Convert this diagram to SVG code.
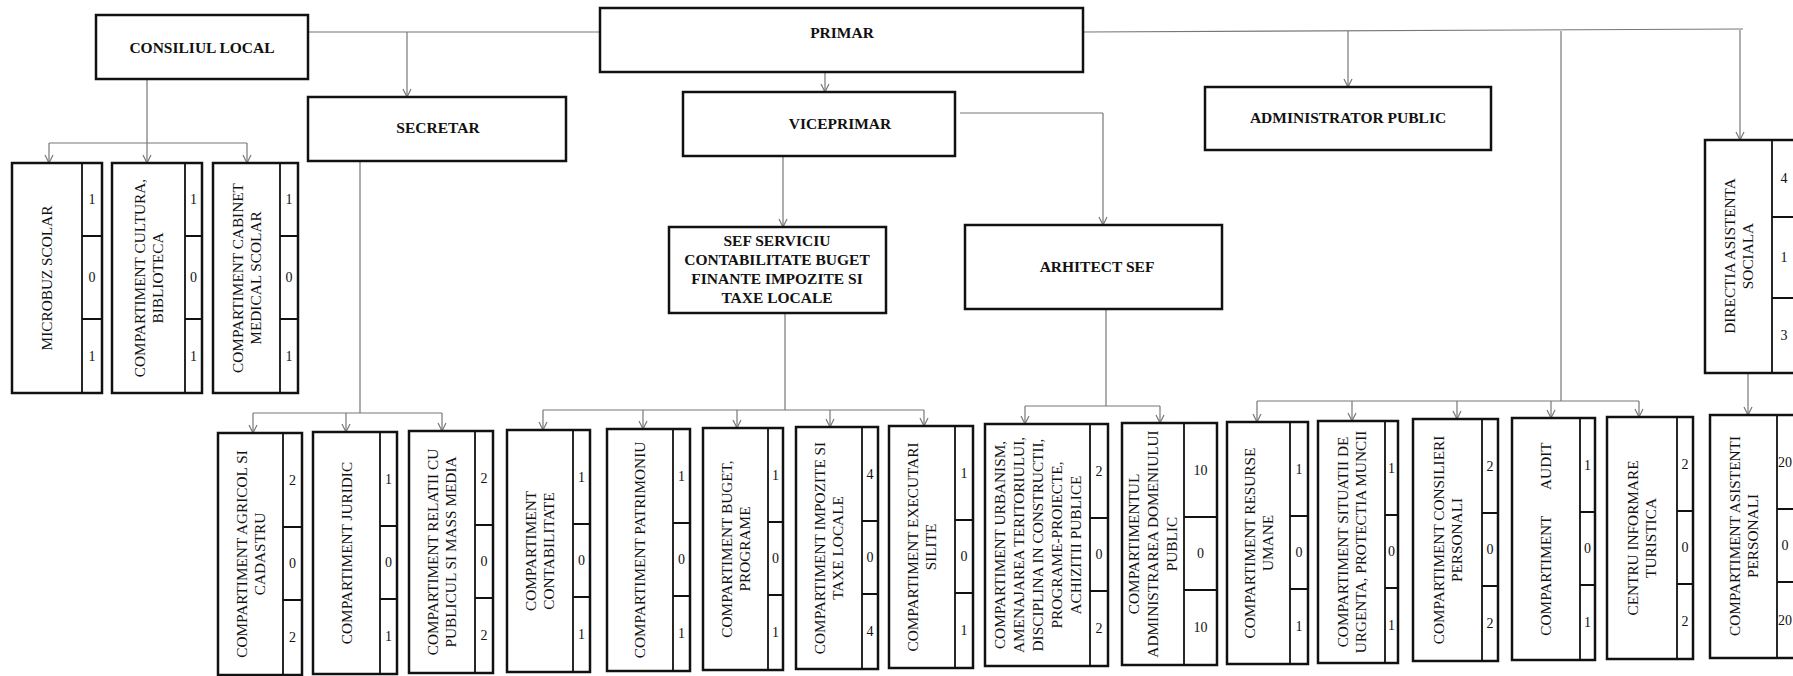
<svg xmlns="http://www.w3.org/2000/svg" width="1793" height="676" viewBox="0 0 1793 676">
<defs>
<style>
.box{fill:#fff;stroke:#111;stroke-width:2.5}
.dv{stroke:#111;stroke-width:1.8;fill:none}
.tt{font-family:"Liberation Serif","Times New Roman",serif;font-weight:bold;font-size:15.5px;text-anchor:middle;fill:#111}
.vt{font-family:"Liberation Serif","Times New Roman",serif;font-size:15.3px;text-anchor:middle;fill:#111}
.nm{font-family:"Liberation Serif","Times New Roman",serif;font-size:14px;text-anchor:middle;fill:#111}
.cn{stroke:#777;stroke-width:1.2;fill:none}
.ar{stroke:#777;stroke-width:1.2;fill:none;marker-end:url(#ah)}
</style>
<marker id="ah" viewBox="-9 -5 10 10" refX="0" refY="0" markerWidth="10" markerHeight="10" markerUnits="userSpaceOnUse" orient="auto" overflow="visible">
<path d="M-8,-4 L0,0 L-8,4" fill="none" stroke="#777" stroke-width="1.2"/>
</marker>
</defs>
<rect width="1793" height="676" fill="#fff"/>

<g id="connectors">
<path class="cn" d="M308,32 H600"/>
<path class="cn" d="M1083,32 L1743,29"/>
<path class="ar" d="M407,32 V97"/>
<path class="ar" d="M825,72 V92"/>
<path class="ar" d="M1348,31 V87"/>
<path class="ar" d="M1740,30 V140"/>
<path class="cn" d="M1561,31 V401"/>
<path class="cn" d="M960,113 H1103"/>
<path class="ar" d="M1103,113 V225"/>
<path class="ar" d="M783,156 V227"/>
<path class="ar" d="M1748,373 V415"/>
<path class="cn" d="M147,79 V143 M49,143 H247"/>
<path class="ar" d="M49,143 V163"/>
<path class="ar" d="M147,143 V163"/>
<path class="ar" d="M247,143 V163"/>
<path class="cn" d="M360,161 V413 M253,413 H442"/>
<path class="ar" d="M253,413 V433"/>
<path class="ar" d="M346,413 V432"/>
<path class="ar" d="M442,413 V431"/>
<path class="cn" d="M785,313 V410 M543,410 H924"/>
<path class="ar" d="M543,410 V430"/>
<path class="ar" d="M643,410 V429"/>
<path class="ar" d="M737,410 V428"/>
<path class="ar" d="M830,410 V427"/>
<path class="ar" d="M924,410 V426"/>
<path class="cn" d="M1106,309 V406 M1025,406 H1160"/>
<path class="ar" d="M1025,406 V424"/>
<path class="ar" d="M1160,406 V423"/>
<path class="cn" d="M1257,401 H1639"/>
<path class="ar" d="M1257,401 V422"/>
<path class="ar" d="M1352,401 V421"/>
<path class="ar" d="M1457,401 V419"/>
<path class="ar" d="M1551,401 V418"/>
<path class="ar" d="M1639,401 V417"/>
</g>

<g id="consiliul-local"><rect class="box" x="96" y="15" width="212" height="64"/><text class="tt" x="202" y="53">CONSILIUL LOCAL</text></g>
<g id="primar"><rect class="box" x="600" y="8" width="483" height="64"/><text class="tt" x="842" y="38">PRIMAR</text></g>
<g id="secretar"><rect class="box" x="308" y="97" width="258" height="64"/><text class="tt" x="438" y="133">SECRETAR</text></g>
<g id="viceprimar"><rect class="box" x="683" y="92" width="272" height="64"/><text class="tt" x="840" y="129">VICEPRIMAR</text></g>
<g id="administrator-public"><rect class="box" x="1205" y="87" width="286" height="63"/><text class="tt" x="1348" y="123">ADMINISTRATOR PUBLIC</text></g>
<g id="sef-serviciu"><rect class="box" x="669" y="227" width="217" height="86"/>
<text class="tt"><tspan x="777" y="246">SEF SERVICIU</tspan><tspan x="777" y="265">CONTABILITATE BUGET</tspan><tspan x="777" y="284">FINANTE IMPOZITE SI</tspan><tspan x="777" y="303">TAXE LOCALE</tspan></text></g>
<g id="arhitect-sef"><rect class="box" x="965" y="225" width="257" height="84"/><text class="tt" x="1097" y="272">ARHITECT SEF</text></g>

<g id="microbuz-scolar"><rect class="box" x="12" y="163" width="90" height="230"/><path class="dv" d="M82,163 V393 M82,236 H102 M82,319 H102"/>
<text class="vt" transform="translate(47,278) rotate(-90)"><tspan x="0" y="5">MICROBUZ SCOLAR</tspan></text>
<text class="nm" x="92" y="204">1</text><text class="nm" x="92" y="282">0</text><text class="nm" x="92" y="361">1</text></g>
<g id="compartiment-cultura"><rect class="box" x="112" y="163" width="90" height="230"/><path class="dv" d="M185,163 V393 M185,236 H202 M185,319 H202"/>
<text class="vt" transform="translate(148.5,278) rotate(-90)"><tspan x="0" y="-4">COMPARTIMENT CULTURA,</tspan><tspan x="0" y="14">BIBLIOTECA</tspan></text>
<text class="nm" x="193.5" y="204">1</text><text class="nm" x="193.5" y="282">0</text><text class="nm" x="193.5" y="361">1</text></g>
<g id="compartiment-cabinet"><rect class="box" x="213" y="163" width="85" height="230"/><path class="dv" d="M280,163 V393 M280,236 H298 M280,319 H298"/>
<text class="vt" transform="translate(246.5,278) rotate(-90)"><tspan x="0" y="-4">COMPARTIMENT CABINET</tspan><tspan x="0" y="14">MEDICAL SCOLAR</tspan></text>
<text class="nm" x="289" y="204">1</text><text class="nm" x="289" y="282">0</text><text class="nm" x="289" y="361">1</text></g>

<g id="directia-asistenta-sociala"><rect class="box" x="1705" y="140" width="100" height="233"/><path class="dv" d="M1772,140 V373 M1772,217 H1800 M1772,298 H1800"/>
<text class="vt" transform="translate(1738.5,256) rotate(-90)"><tspan x="0" y="-4">DIRECTIA ASISTENTA</tspan><tspan x="0" y="14">SOCIALA</tspan></text>
<text class="nm" x="1784" y="183">4</text><text class="nm" x="1784" y="262">1</text><text class="nm" x="1784" y="340">3</text></g>

<g id="compartiment-agricol"><rect class="box" x="218" y="433" width="84" height="242"/><path class="dv" d="M283,433 V675 M283,527 H302 M283,600 H302"/>
<text class="vt" transform="translate(250.5,554) rotate(-90)"><tspan x="0" y="-4">COMPARTIMENT AGRICOL SI</tspan><tspan x="0" y="14">CADASTRU</tspan></text>
<text class="nm" x="292.5" y="485">2</text><text class="nm" x="292.5" y="568">0</text><text class="nm" x="292.5" y="642">2</text></g>

<g id="compartiment-juridic"><rect class="box" x="313" y="432" width="84" height="242"/><path class="dv" d="M380,432 V674 M380,526 H397 M380,599 H397"/>
<text class="vt" transform="translate(346.5,553) rotate(-90)"><tspan x="0" y="5">COMPARTIMENT JURIDIC</tspan></text>
<text class="nm" x="388.5" y="484">1</text><text class="nm" x="388.5" y="567">0</text><text class="nm" x="388.5" y="641">1</text></g>

<g id="compartiment-relatii"><rect class="box" x="409" y="431" width="84" height="242"/><path class="dv" d="M475,431 V673 M475,525 H493 M475,598 H493"/>
<text class="vt" transform="translate(442,552) rotate(-90)"><tspan x="0" y="-4">COMPARTIMENT RELATII CU</tspan><tspan x="0" y="14">PUBLICUL SI MASS MEDIA</tspan></text>
<text class="nm" x="484" y="483">2</text><text class="nm" x="484" y="566">0</text><text class="nm" x="484" y="640">2</text></g>

<g id="compartiment-contabilitate"><rect class="box" x="507" y="430" width="83" height="242"/><path class="dv" d="M573,430 V672 M573,524 H590 M573,597 H590"/>
<text class="vt" transform="translate(540,551) rotate(-90)"><tspan x="0" y="-4">COMPARTIMENT</tspan><tspan x="0" y="14">CONTABILITATE</tspan></text>
<text class="nm" x="581.5" y="482">1</text><text class="nm" x="581.5" y="565">0</text><text class="nm" x="581.5" y="639">1</text></g>

<g id="compartiment-patrimoniu"><rect class="box" x="607" y="429" width="83" height="242"/><path class="dv" d="M673,429 V671 M673,523 H690 M673,596 H690"/>
<text class="vt" transform="translate(640,550) rotate(-90)"><tspan x="0" y="5">COMPARTIMENT PATRIMONIU</tspan></text>
<text class="nm" x="681.5" y="481">1</text><text class="nm" x="681.5" y="564">0</text><text class="nm" x="681.5" y="638">1</text></g>

<g id="compartiment-buget"><rect class="box" x="703" y="428" width="80" height="242"/><path class="dv" d="M768,428 V670 M768,522 H783 M768,595 H783"/>
<text class="vt" transform="translate(735.5,549) rotate(-90)"><tspan x="0" y="-4">COMPARTIMENT BUGET,</tspan><tspan x="0" y="14">PROGRAME</tspan></text>
<text class="nm" x="775.5" y="480">1</text><text class="nm" x="775.5" y="563">0</text><text class="nm" x="775.5" y="637">1</text></g>

<g id="compartiment-impozite"><rect class="box" x="796" y="427" width="82" height="242"/><path class="dv" d="M862,427 V669 M862,521 H878 M862,594 H878"/>
<text class="vt" transform="translate(829,548) rotate(-90)"><tspan x="0" y="-4">COMPARTIMENT IMPOZITE SI</tspan><tspan x="0" y="14">TAXE LOCALE</tspan></text>
<text class="nm" x="870" y="479">4</text><text class="nm" x="870" y="562">0</text><text class="nm" x="870" y="636">4</text></g>

<g id="compartiment-executari"><rect class="box" x="889" y="426" width="84" height="242"/><path class="dv" d="M955,426 V668 M955,520 H973 M955,593 H973"/>
<text class="vt" transform="translate(922,547) rotate(-90)"><tspan x="0" y="-4">COMPARTIMENT EXECUTARI</tspan><tspan x="0" y="14">SILITE</tspan></text>
<text class="nm" x="964" y="478">1</text><text class="nm" x="964" y="561">0</text><text class="nm" x="964" y="635">1</text></g>

<g id="compartiment-urbanism"><rect class="box" x="985" y="424" width="123" height="242"/><path class="dv" d="M1090,424 V666 M1090,518 H1108 M1090,591 H1108"/>
<text class="vt" transform="translate(1037.5,545) rotate(-90)"><tspan x="0" y="-33">COMPARTIMENT URBANISM,</tspan><tspan x="0" y="-14">AMENAJAREA TERITORIULUI,</tspan><tspan x="0" y="5">DISCIPLINA IN CONSTRUCTII,</tspan><tspan x="0" y="24">PROGRAME-PROIECTE,</tspan><tspan x="0" y="43">ACHIZITII PUBLICE</tspan></text>
<text class="nm" x="1099" y="476">2</text><text class="nm" x="1099" y="559">0</text><text class="nm" x="1099" y="633">2</text></g>

<g id="compartimentul-administrarea"><rect class="box" x="1122" y="423" width="95" height="242"/><path class="dv" d="M1184,423 V665 M1184,517 H1217 M1184,590 H1217"/>
<text class="vt" transform="translate(1153,544) rotate(-90)"><tspan x="0" y="-14">COMPARTIMENTUL</tspan><tspan x="0" y="5">ADMINISTRAREA DOMENIULUI</tspan><tspan x="0" y="24">PUBLIC</tspan></text>
<text class="nm" x="1200.5" y="475">10</text><text class="nm" x="1200.5" y="558">0</text><text class="nm" x="1200.5" y="632">10</text></g>

<g id="compartiment-resurse"><rect class="box" x="1227" y="422" width="81" height="242"/><path class="dv" d="M1290,422 V664 M1290,516 H1308 M1290,589 H1308"/>
<text class="vt" transform="translate(1258.5,543) rotate(-90)"><tspan x="0" y="-4">COMPARTIMENT RESURSE</tspan><tspan x="0" y="14">UMANE</tspan></text>
<text class="nm" x="1299" y="474">1</text><text class="nm" x="1299" y="557">0</text><text class="nm" x="1299" y="631">1</text></g>

<g id="compartiment-situatii"><rect class="box" x="1318" y="421" width="80" height="242"/><path class="dv" d="M1385,421 V663 M1385,515 H1398 M1385,588 H1398"/>
<text class="vt" transform="translate(1351.5,542) rotate(-90)"><tspan x="0" y="-4">COMPARTIMENT SITUATII DE</tspan><tspan x="0" y="14">URGENTA, PROTECTIA MUNCII</tspan></text>
<text class="nm" x="1391.5" y="473">1</text><text class="nm" x="1391.5" y="556">0</text><text class="nm" x="1391.5" y="630">1</text></g>

<g id="compartiment-consilieri"><rect class="box" x="1413" y="419" width="85" height="242"/><path class="dv" d="M1482,419 V661 M1482,513 H1498 M1482,586 H1498"/>
<text class="vt" transform="translate(1447.5,540) rotate(-90)"><tspan x="0" y="-4">COMPARTIMENT CONSILIERI</tspan><tspan x="0" y="14">PERSONALI</tspan></text>
<text class="nm" x="1490" y="471">2</text><text class="nm" x="1490" y="554">0</text><text class="nm" x="1490" y="628">2</text></g>

<g id="compartiment-audit"><rect class="box" x="1512" y="418" width="83" height="242"/><path class="dv" d="M1580,418 V660 M1580,512 H1595 M1580,585 H1595"/>
<text class="vt" transform="translate(1546,539) rotate(-90)" xml:space="preserve" style="white-space:pre"><tspan x="0" y="5">COMPARTIMENT       AUDIT</tspan></text>
<text class="nm" x="1587.5" y="470">1</text><text class="nm" x="1587.5" y="553">0</text><text class="nm" x="1587.5" y="627">1</text></g>

<g id="centru-informare-turistica"><rect class="box" x="1607" y="417" width="86" height="242"/><path class="dv" d="M1677,417 V659 M1677,511 H1693 M1677,584 H1693"/>
<text class="vt" transform="translate(1642,538) rotate(-90)"><tspan x="0" y="-4">CENTRU INFORMARE</tspan><tspan x="0" y="14">TURISTICA</tspan></text>
<text class="nm" x="1685" y="469">2</text><text class="nm" x="1685" y="552">0</text><text class="nm" x="1685" y="626">2</text></g>

<g id="compartiment-asistenti"><rect class="box" x="1710" y="415" width="95" height="243"/><path class="dv" d="M1777,415 V658 M1777,509 H1800 M1777,582 H1800"/>
<text class="vt" transform="translate(1743.5,536) rotate(-90)"><tspan x="0" y="-4">COMPARTIMENT ASISTENTI</tspan><tspan x="0" y="14">PERSONALI</tspan></text>
<text class="nm" x="1785" y="467">20</text><text class="nm" x="1785" y="550">0</text><text class="nm" x="1785" y="625">20</text></g>
</svg>
